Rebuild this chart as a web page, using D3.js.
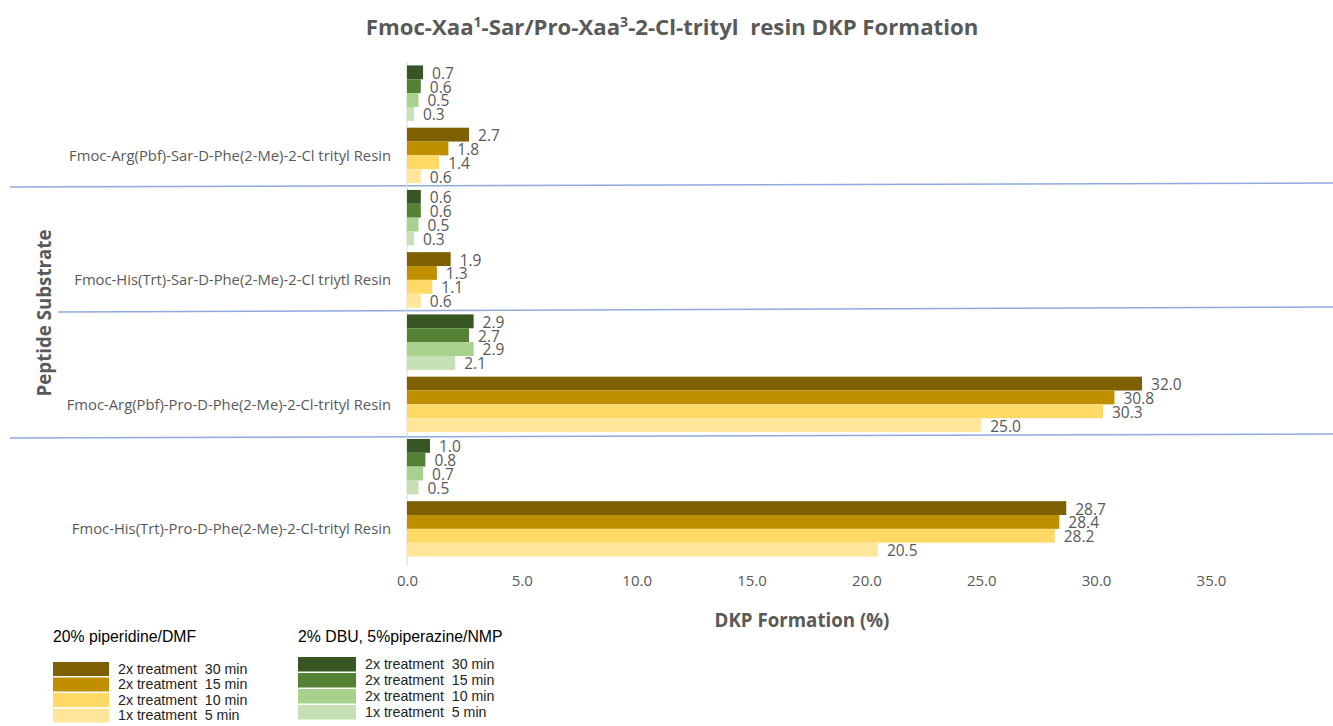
<!DOCTYPE html>
<html><head><meta charset="utf-8">
<script src="https://cdn.jsdelivr.net/npm/d3@7"></script>
<style>body{margin:0;background:#fff}svg{display:block}</style>
</head><body>
<script>
const substrates = [
  "Fmoc-Arg(Pbf)-Sar-D-Phe(2-Me)-2-Cl trityl Resin",
  "Fmoc-His(Trt)-Sar-D-Phe(2-Me)-2-Cl triytl Resin",
  "Fmoc-Arg(Pbf)-Pro-D-Phe(2-Me)-2-Cl-trityl Resin",
  "Fmoc-His(Trt)-Pro-D-Phe(2-Me)-2-Cl-trityl Resin"
];
const seriesNames = ["2x treatment  30 min","2x treatment  15 min","2x treatment  10 min","1x treatment  5 min"];
// DBU/piperazine/NMP values per substrate (30,15,10,5 min)
const dbuValues = [
  [0.7,0.6,0.5,0.3],
  [0.6,0.6,0.5,0.3],
  [2.9,2.7,2.9,2.1],
  [1.0,0.8,0.7,0.5]
];
// piperidine/DMF values per substrate
const pipValues = [
  [2.7,1.8,1.4,0.6],
  [1.9,1.3,1.1,0.6],
  [32.0,30.8,30.3,25.0],
  [28.7,28.4,28.2,20.5]
];
const xTicks = [0,5,10,15,20,25,30,35];
const pipColors = ["#7F6000","#BF8F00","#FFD966","#FFE699"];
const dbuColors = ["#375623","#548235","#A9D18E","#C5E0B4"];
const groupTitles = ["20% piperidine/DMF","2% DBU, 5%piperazine/NMP"];

const W=1333,H=726;
const svg=d3.select("body").append("svg").attr("width",W).attr("height",H);
const gray="#595959";
const font="'Open Sans', sans-serif";

const subKeys=[];
substrates.forEach((s,i)=>{subKeys.push(i+"-dbu");subKeys.push(i+"-pip");});
const y=d3.scaleBand().domain(subKeys).range([62,560]).paddingInner(0.11).paddingOuter(0.055);
const x=d3.scaleLinear().domain([0,40]).range([407,407+40*22.97]);

// title
const title=svg.append("text").attr("x",672).attr("y",35).attr("text-anchor","middle")
  .attr("font-family",font).attr("font-weight","bold").attr("font-size",22.2).attr("fill",gray);
title.append("tspan").text("Fmoc-Xaa");
title.append("tspan").text("1").attr("font-size",14).attr("dy",-8);
title.append("tspan").text("-Sar/Pro-Xaa").attr("dy",8);
title.append("tspan").text("3").attr("font-size",14).attr("dy",-8);
title.append("tspan").text("-2-Cl-trityl  resin DKP Formation").attr("dy",8).style("white-space","pre");

// separator lines
const seps=[[10,187,1333,183],[58,312,1333,307],[10,438,1333,434]];
svg.selectAll("line.sep").data(seps).enter().append("line")
  .attr("x1",d=>d[0]).attr("y1",d=>d[1]).attr("x2",d=>d[2]).attr("y2",d=>d[3])
  .attr("stroke","#8FAADC").attr("stroke-width",1.5);

// vertical axis line
svg.append("line").attr("x1",x(0)).attr("x2",x(0)).attr("y1",62).attr("y2",566)
  .attr("stroke","#D9D9D9").attr("stroke-width",1);

const bh=y.bandwidth()/4;
function drawGroup(vals,colors,suffix){
  vals.forEach((arr,i)=>{
    const top=y(i+"-"+suffix);
    const g=svg.append("g");
    g.selectAll("rect").data(arr).enter().append("rect")
      .attr("x",x(0)).attr("y",(d,j)=>top+j*bh).attr("width",d=>x(d)-x(0)).attr("height",bh)
      .attr("fill",(d,j)=>colors[j]);
    g.selectAll("text").data(arr).enter().append("text")
      .attr("x",d=>x(d)+9).attr("y",(d,j)=>top+j*bh+bh/2+1).attr("dy","0.35em")
      .attr("font-family",font).attr("font-size",15.5).attr("fill",gray)
      .text(d=>d.toFixed(1));
  });
}
drawGroup(dbuValues,dbuColors,"dbu");
drawGroup(pipValues,pipColors,"pip");

// category labels
svg.selectAll("text.cat").data(substrates).enter().append("text")
  .attr("x",391).attr("y",(d,i)=>y(i+"-pip")+y.bandwidth()/2).attr("dy","0.35em")
  .attr("text-anchor","end").attr("font-family",font).attr("font-size",14.8).attr("fill",gray)
  .text(d=>d);

// x axis ticks
const xa=svg.append("g").attr("transform","translate(0,572)")
  .call(d3.axisBottom(x).tickValues(xTicks).tickFormat(d3.format(".1f")).tickSize(0));
xa.select(".domain").remove();
xa.selectAll("text").attr("font-family",font).attr("font-size",15).attr("fill",gray);

// axis titles
svg.append("text").attr("x",802).attr("y",627).attr("text-anchor","middle")
  .attr("font-family",font).attr("font-weight","bold").attr("font-size",18.7).attr("fill",gray)
  .text("DKP Formation (%)");
svg.append("text").attr("transform","translate(51,313) rotate(-90)").attr("text-anchor","middle")
  .attr("font-family",font).attr("font-weight","bold").attr("font-size",18.7).attr("fill",gray)
  .text("Peptide Substrate");

// legends
const lfont="'Liberation Sans', Arial, sans-serif";
const legends=[
  {x:53,ty:642,ry:662,step:15.5,sw:56,colors:pipColors,title:groupTitles[0]},
  {x:298,ty:642,ry:657,step:16,sw:58,colors:dbuColors,title:groupTitles[1]}
];
legends.forEach(L=>{
  const g=svg.append("g");
  g.append("text").attr("x",L.x).attr("y",L.ty).attr("font-family",lfont).attr("font-size",15.8).attr("fill","#000").text(L.title);
  g.selectAll("rect").data(seriesNames).enter().append("rect")
    .attr("x",L.x).attr("y",(d,i)=>L.ry+i*L.step).attr("width",L.sw).attr("height",L.step-1.5)
    .attr("fill",(d,i)=>L.colors[i]);
  g.selectAll("text.li").data(seriesNames).enter().append("text")
    .attr("x",L.x+L.sw+9).attr("y",(d,i)=>L.ry+i*L.step+(L.step-1.5)/2).attr("dy","0.35em")
    .attr("font-family",lfont).attr("font-size",14.2).attr("fill","#222")
    .style("white-space","pre").text(d=>d);
});
</script>
</body></html>
